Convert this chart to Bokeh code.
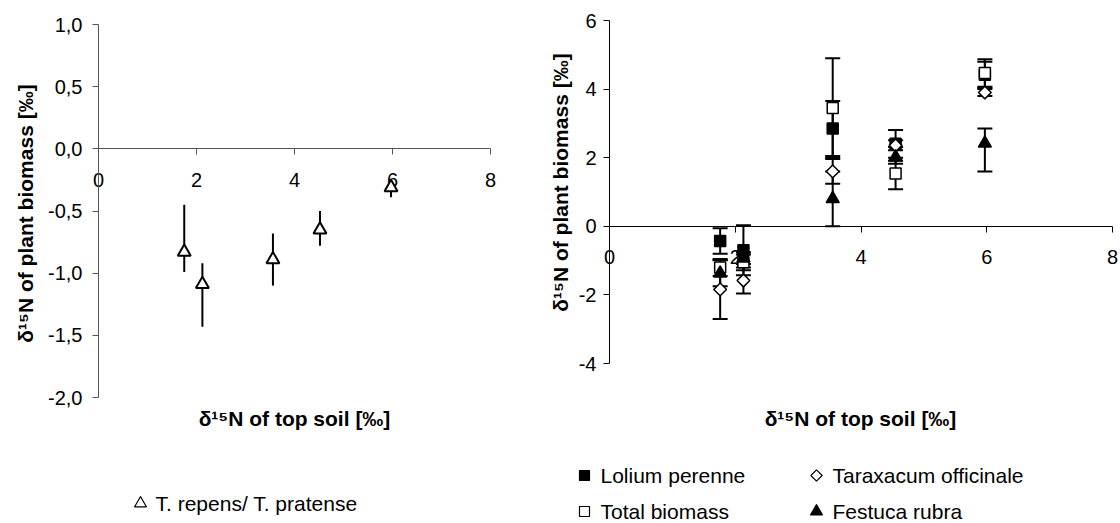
import math
from bokeh.plotting import figure
from bokeh.models import (LinearAxis, FixedTicker, ColumnDataSource, Whisker,
                          TeeHead, Range1d)
from bokeh.layouts import row
from bokeh.core.properties import value
from bokeh.embed import file_html
from bokeh.resources import INLINE

# ---------------- data ----------------
left_x_soil = [1.75, 2.12, 3.56, 4.52, 5.97]
left_trifolium = [-0.83, -1.09, -0.89, -0.65, -0.31]
left_trifolium_lo = [-0.99, -1.43, -1.10, -0.78, -0.39]
left_trifolium_hi = [-0.45, -0.92, -0.68, -0.50, -0.25]

right_x_soil = [1.76, 2.13, 3.55, 4.55, 5.97]
lolium = [-0.43, -0.70, 2.85, 2.41, 4.42]
lolium_lo = [-0.80, -1.43, 2.05, 2.31, 4.04]
lolium_hi = [-0.06, 0.03, 3.65, 2.51, 4.80]
total = [-1.20, -1.05, 3.45, 1.54, 4.47]
total_lo = [-1.45, -1.28, 2.00, 1.08, 4.07]
total_hi = [-0.95, -0.82, 4.90, 2.00, 4.87]
taraxacum = [-1.84, -1.58, 1.60, 2.36, 3.90]
taraxacum_lo = [-2.70, -1.96, 1.24, 1.91, 3.80]
taraxacum_hi = [-0.98, -1.20, 1.96, 2.81, 4.00]
festuca = [-1.37, -0.93, 0.80, 2.02, 2.42]
festuca_lo = [-1.75, -1.10, 0.00, 1.82, 1.60]
festuca_hi = [-0.99, -0.76, 1.60, 2.22, 2.85]

x_ticks = [0, 2, 4, 6, 8]
x_tick_labels = ["0", "2", "4", "6", "8"]
left_y_ticks = [-2.0, -1.5, -1.0, -0.5, 0.0, 0.5, 1.0]
left_y_tick_labels = ["-2,0", "-1,5", "-1,0", "-0,5", "0,0", "0,5", "1,0"]
right_y_ticks = [-4, -2, 0, 2, 4, 6]
right_y_tick_labels = ["-4", "-2", "0", "2", "4", "6"]

x_title = "δ¹⁵N of top soil [‰]"
y_title = "δ¹⁵N of plant biomass [‰]"
left_legend = ["T. repens/ T. pratense"]
right_legend = ["Lolium perenne", "Taraxacum officinale", "Total biomass", "Festuca rubra"]

FONT_NAME = "Liberation Sans"
FONT = value(FONT_NAME)
H = 522


class Mapper:
    """page-pixel <-> data mapping for one panel"""
    def __init__(self, left, width, xa, xb, ya, yb):
        (dx0, px0), (dx1, px1) = xa, xb
        (dy0, py0), (dy1, py1) = ya, yb
        self.sx = (px1 - px0) / (dx1 - dx0)
        self.ox = px0 - dx0 * self.sx
        self.sy = (py1 - py0) / (dy1 - dy0)
        self.oy = py0 - dy0 * self.sy
        self.left, self.width = left, width

    def x(self, px):
        return (px - self.ox) / self.sx

    def y(self, py):
        return (py - self.oy) / self.sy

    def xr(self):
        return Range1d(self.x(self.left), self.x(self.left + self.width))

    def yr(self):
        return Range1d(self.y(H), self.y(0))


def make_fig(m):
    p = figure(width=m.width, height=H, x_range=m.xr(), y_range=m.yr(),
               x_axis_type=None, y_axis_type=None, toolbar_location=None,
               output_backend="svg", min_border=0, outline_line_color=None,
               title=None, background_fill_color="white", border_fill_color="white")
    return p


def add_axes(p, yticks, ylabels, xb, yb, ylab_standoff, xlab_standoff, color):
    xa = LinearAxis(fixed_location=0, ticker=FixedTicker(ticks=x_ticks),
                    major_label_overrides=dict(zip(x_ticks, x_tick_labels)),
                    bounds=xb)
    ya = LinearAxis(fixed_location=0, ticker=FixedTicker(ticks=yticks),
                    major_label_overrides=dict(zip(yticks, ylabels)),
                    bounds=yb)
    for ax in (xa, ya):
        ax.axis_line_color = color
        ax.axis_line_width = 1
        ax.major_tick_line_color = color
        ax.major_tick_in = 0
        ax.major_tick_out = 6
        ax.minor_tick_line_color = None
        ax.major_label_text_font = FONT_NAME
        ax.major_label_text_font_size = "20px"
        ax.major_label_text_color = "black"
        ax.level = "underlay"
    xa.major_label_standoff = xlab_standoff
    ya.major_label_standoff = ylab_standoff
    p.add_layout(xa, "below")
    p.add_layout(ya, "left")


def titles(p, m, xt_px, yt_px):
    p.text(x=[m.x(xt_px[0])], y=[m.y(xt_px[1])], text=[x_title],
           text_font=FONT, text_font_style="bold", text_font_size="21px",
           text_align="center", text_baseline="middle", text_color="black")
    p.text(x=[m.x(yt_px[0])], y=[m.y(yt_px[1])], text=[y_title], angle=math.pi / 2,
           text_font=FONT, text_font_style="bold", text_font_size="21px",
           text_align="center", text_baseline="middle", text_color="black")


def series(p, xs, ys, lo, hi, marker, fill, size, caps, angle=0.0, lw=1.5):
    src = ColumnDataSource(dict(x=xs, y=ys, lo=lo, hi=hi))
    if caps:
        w = Whisker(source=src, base="x", lower="lo", upper="hi", dimension="height",
                    line_width=2, line_color="black",
                    lower_head=TeeHead(size=15, line_width=2, line_color="black"),
                    upper_head=TeeHead(size=15, line_width=2, line_color="black"))
    else:
        w = Whisker(source=src, base="x", lower="lo", upper="hi", dimension="height",
                    line_width=2, line_color="black", lower_head=None, upper_head=None)
    p.add_layout(w)
    p.scatter("x", "y", source=src, marker=marker, size=size, angle=angle,
              fill_color=fill, line_color="black", line_width=lw)


def legend_item(p, m, mx, my, tx, marker, fill, size, label, angle=0.0, lw=1.2):
    p.scatter(x=[m.x(mx)], y=[m.y(my)], marker=marker, size=size, angle=angle,
              fill_color=fill, line_color="black", line_width=lw)
    p.text(x=[m.x(tx)], y=[m.y(my)], text=[label], text_font=FONT,
           text_font_size="21px", text_align="left", text_baseline="middle",
           text_color="black")


# ---------------- left panel ----------------
mL = Mapper(0, 508, (0, 98), (8, 490), (1.0, 24), (-2.0, 397))
pL = make_fig(mL)
add_axes(pL, left_y_ticks, left_y_tick_labels, (0, 8), (-2, 1), 10, 18, "#555555")
series(pL, left_x_soil, left_trifolium, left_trifolium_lo, left_trifolium_hi,
       "triangle", "white", 13, caps=False, lw=2)
titles(pL, mL, (294, 418), (25, 213))
legend_item(pL, mL, 140, 503, 155, "triangle", "white", 12, left_legend[0], lw=1.2)

# ---------------- right panel ----------------
mR = Mapper(508, 612, (0, 609), (8, 1112), (6, 20), (-4, 363))
pR = make_fig(mR)
add_axes(pR, right_y_ticks, right_y_tick_labels, (0, 8), (-4, 6), 7, 18, "black")
series(pR, right_x_soil, lolium, lolium_lo, lolium_hi, "square", "black", 11, caps=True)
series(pR, right_x_soil, total, total_lo, total_hi, "square", "white", 11, caps=True)
series(pR, right_x_soil, taraxacum, taraxacum_lo, taraxacum_hi, "square", "white", 9,
       caps=True, angle=math.pi / 4)
series(pR, right_x_soil, festuca, festuca_lo, festuca_hi, "triangle", "black", 13, caps=True)
titles(pR, mR, (860, 418), (560, 182))
legend_item(pR, mR, 584, 475, 600, "square", "black", 10, right_legend[0])
legend_item(pR, mR, 816, 475, 832, "square", "white", 8, right_legend[1], angle=math.pi / 4)
legend_item(pR, mR, 584, 511, 600, "square", "white", 10, right_legend[2])
legend_item(pR, mR, 816, 511, 832, "triangle", "black", 12, right_legend[3])

layout = row(pL, pR)
open("out.html", "w").write(file_html(layout, INLINE))
